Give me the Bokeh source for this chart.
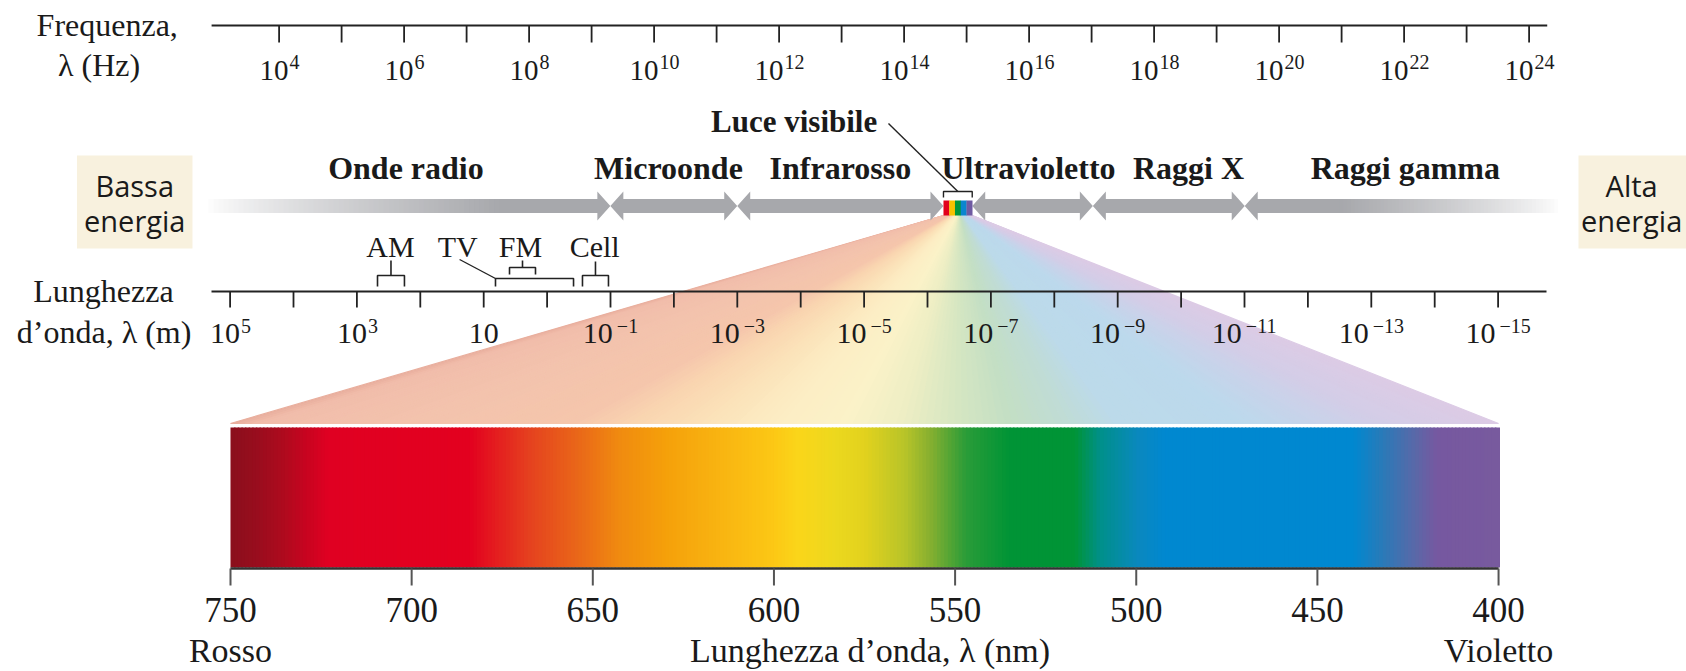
import numpy as np
from bokeh.plotting import figure
from bokeh.models import Range1d
from bokeh.core.properties import value
from bokeh.embed import file_html
from bokeh.resources import INLINE

# ----------------------------- data -----------------------------
freq_tick_exp = list(range(4, 25))            # log10(frequency / Hz)
freq_label_exp = list(range(4, 25, 2))
lam_tick_exp = list(range(5, -16, -1))        # log10(wavelength / m)
lam_label_exp = list(range(5, -16, -2))

band_names = ["Onde radio", "Microonde", "Infrarosso", "Ultravioletto", "Raggi X", "Raggi gamma"]
band_start = [2.79, 9.30, 11.33, 15.09, 17.02, 19.45]   # log10(Hz)
band_end = [9.30, 11.33, 14.63, 17.02, 19.45, 24.55]
band_label_x = [6.03, 10.23, 12.98, 15.99, 18.55, 22.02]

visible_label = "Luce visibile"
visible_start, visible_end = 14.63, 15.09
visible_colors = ["#e2001a", "#f6c200", "#00963c", "#0a86cf", "#6f5aa2"]

radio_names = ["AM", "TV", "FM", "Cell"]
radio_label_lam = [2.47, 1.41, 0.42, -0.75]   # log10(m)
radio_lo = [2.675, 0.814, 0.593, -0.558]
radio_hi = [2.25, -0.417, 0.183, -0.968]

nm_ticks = [750, 700, 650, 600, 550, 500, 450, 400]
spectrum_nm = [750, 742, 735, 729, 723, 684, 667, 653, 643, 630, 618, 600, 593,
               583, 575, 564, 557, 547, 535, 517, 510, 499, 492, 440, 432, 423, 417, 400]
spectrum_colors = ["#8a0f1c", "#9a0d1e", "#b00a1e", "#c80420", "#e00022", "#e3001f",
                   "#e5431f", "#ea6a18", "#f08a10", "#f5a00a", "#f8b010", "#fcc815",
                   "#fad61a", "#ecd81e", "#e2d21e", "#b8c428", "#88b030", "#2a9c38",
                   "#009436", "#009436", "#00908a", "#0a88c0", "#0088d0", "#0088d0",
                   "#2a7ab8", "#5a68a8", "#7658a0", "#785a9e"]
fan_nm = [750, 742, 700, 655, 640, 620, 600, 580, 565, 550, 535, 520, 505, 470, 450, 430, 400]
fan_colors = ["#e8ad9c", "#f1bdab", "#f3c3ad", "#f5c6ac", "#f9d4b0", "#fbe1b8", "#fcedc4",
              "#fbf2c8", "#eeeec4", "#d6e6c2", "#c4dfc4", "#c0dcd4", "#bcdaea", "#bcd9ec",
              "#c8d3ea", "#d4cde7", "#dccbe5"]

energy_low = ["Bassa", "energia"]
energy_high = ["Alta", "energia"]

# ----------------------------- layout -----------------------------
W, H = 1686, 671
SERIF = "Liberation Serif"
SANS = "Open Sans"
INK = "#1a1a1a"
GRAY = "#a7a8ac"

# axis calibrations (pixel position of reference ticks)
f_start = 4 - 278.6 / 62.5
f_end = f_start + W / 62.5
l_start = 5 + 229.6 / 63.4
l_end = l_start - W / 63.4
n_start = 750 + 230 / 3.623
n_end = n_start - W / 3.623


def freq_to_nm(f):
    frac = (np.asarray(f) - f_start) / (f_end - f_start)
    return n_start + frac * (n_end - n_start)


p = figure(width=W, height=H, x_range=Range1d(f_start, f_end), y_range=Range1d(H, 0),
           x_axis_type=None, y_axis_type=None, toolbar_location=None, output_backend="svg",
           min_border=0, min_border_left=0, min_border_right=0, min_border_top=0, min_border_bottom=0)
p.outline_line_color = None
p.background_fill_color = "white"
p.border_fill_color = "white"
p.extra_x_ranges = {"lam": Range1d(l_start, l_end), "nm": Range1d(n_start, n_end)}


def hex_rgb(h):
    h = h.lstrip("#")
    return np.array([int(h[i:i + 2], 16) for i in (0, 2, 4)], dtype=float)


def interp_colors(stops_x, stops_c, xs):
    sx = np.array(stops_x, dtype=float)[::-1]
    rgb = np.array([hex_rgb(c) for c in stops_c])[::-1]
    out = []
    for x in xs:
        c = [np.interp(x, sx, rgb[:, k]) for k in range(3)]
        out.append("#%02x%02x%02x" % tuple(int(round(v)) for v in c))
    return out


def dy(size):
    # baseline correction observed for the svg text rendering
    return -size / 3.1


def txt(x, y, t, size, font=SERIF, style="normal", align="center", rn="default", color=INK,
        x_offset=0):
    p.text(x=x, y=[v + dy(size) for v in y], text=t, text_font=value(font),
           text_font_size=value("%dpx" % size), text_font_style=style, text_align=align,
           text_baseline="alphabetic", text_color=color, x_range_name=rn, x_offset=x_offset)


# ---------------- fan (pastel projection of the visible band) ----------------
Y_FAN_TOP, Y_FAN_BOT = 215, 423
apex_l, apex_r = freq_to_nm([visible_start, visible_end])
step = 2.0
nb = np.arange(750, 400, -step)
fan_xs, fan_ys = [], []
for a in nb:
    b = a - step
    ta = (750 - a) / 350.0
    tb = (750 - b) / 350.0
    xa = apex_l + ta * (apex_r - apex_l)
    xb = apex_l + tb * (apex_r - apex_l)
    fan_xs.append([xa, xb, b, a])
    fan_ys.append([Y_FAN_TOP, Y_FAN_TOP, Y_FAN_BOT, Y_FAN_BOT])
fc = interp_colors(fan_nm, fan_colors, nb - step / 2)
p.patches(xs=fan_xs, ys=fan_ys, fill_color=fc, line_color=fc, line_width=1.2, x_range_name="nm")

# ---------------- spectrum bar ----------------
nms = np.arange(750, 400, -1.0)
bc = interp_colors(spectrum_nm, spectrum_colors, nms - 0.5)
p.quad(left=nms, right=nms - 1.4, top=427, bottom=567, fill_color=bc, line_color=None,
       x_range_name="nm")
p.segment(x0=[750], y0=[568], x1=[400], y1=[568], line_color="#333333", line_width=2.5,
          x_range_name="nm")
p.segment(x0=nm_ticks, y0=[568] * len(nm_ticks), x1=nm_ticks, y1=[585] * len(nm_ticks),
          line_color="#555555", line_width=2, x_range_name="nm")
txt(nm_ticks, [621] * len(nm_ticks), [str(v) for v in nm_ticks], 35, rn="nm")
txt([750], [661], ["Rosso"], 34, rn="nm")
txt([400], [661], ["Violetto"], 34, rn="nm")
txt([(750 + 400) / 2 - 1.5], [661], ["Lunghezza d\u2019onda, \u03bb (nm)"], 34, rn="nm")

# ---------------- frequency axis ----------------
p.segment(x0=[2.92], y0=[25], x1=[24.29], y1=[25], line_color="#222222", line_width=2.2)
p.segment(x0=freq_tick_exp, y0=[25] * len(freq_tick_exp), x1=freq_tick_exp,
          y1=[42] * len(freq_tick_exp), line_color="#222222", line_width=1.8)


def sup_labels(xs, exps, yb, ye, rn, base_px, exp_px):
    bx, bt, bo, ex, et, eo, cx = [], [], [], [], [], [], []
    for x, e in zip(xs, exps):
        if e == 1:
            cx.append(x)
            continue
        s = str(e).replace("-", "\u2212")
        we = 0.5 * exp_px * len(str(abs(e))) + (0.564 * exp_px + 4 if e < 0 else 0.0)
        wb = float(base_px)
        off = (wb - we) / 2.0
        bx.append(x); bt.append("10"); bo.append(off)
        ex.append(x); et.append(s); eo.append(off + (1.0 if e >= 0 else 4.0))
    p.text(x=bx, y=[yb + dy(base_px)] * len(bx), text=bt, x_offset=bo, text_font=value(SERIF),
           text_font_size=value("%dpx" % base_px), text_align="right", text_baseline="alphabetic",
           text_color=INK, x_range_name=rn)
    p.text(x=ex, y=[ye + dy(exp_px)] * len(ex), text=et, x_offset=eo, text_font=value(SERIF),
           text_font_size=value("%dpx" % exp_px), text_align="left", text_baseline="alphabetic",
           text_color=INK, x_range_name=rn)
    if cx:
        txt(cx, [yb] * len(cx), ["10"] * len(cx), base_px, rn=rn)


sup_labels(freq_label_exp, freq_label_exp, 79, 68, "default", 29, 20)
txt([1.25], [35], ["Frequenza,"], 32)
txt([1.12], [75], ["\u03bb (Hz)"], 32)

# ---------------- wavelength axis ----------------
p.segment(x0=[l_start - 211 / 63.4], y0=[291], x1=[l_start - 1546 / 63.4],
          y1=[291], line_color="#222222", line_width=2.2, x_range_name="lam")
p.segment(x0=lam_tick_exp, y0=[291] * len(lam_tick_exp), x1=lam_tick_exp,
          y1=[307] * len(lam_tick_exp), line_color="#222222", line_width=1.8, x_range_name="lam")
sup_labels(lam_label_exp, lam_label_exp, 343, 332, "lam", 30, 20)
txt([1.19], [301], ["Lunghezza"], 32)
txt([1.20], [342], ["d\u2019onda, \u03bb (m)"], 32)

# radio sub-bands (brackets)
br_top = [275, 278, 267, 275]
br_bot = [286, 286, 274, 286]
bxs, bys = [], []
for lo, hi, t, b in zip(radio_lo, radio_hi, br_top, br_bot):
    bxs.append([lo, lo, hi, hi]); bys.append([b, t, t, b])
p.multi_line(xs=bxs, ys=bys, line_color="#222222", line_width=1.6, x_range_name="lam")
stems = [0, 2, 3]
p.segment(x0=[(radio_lo[i] + radio_hi[i]) / 2 for i in stems], y0=[br_top[i] for i in stems],
          x1=[(radio_lo[i] + radio_hi[i]) / 2 for i in stems], y1=[260, 260, 261],
          line_color="#222222", line_width=1.6, x_range_name="lam")
p.segment(x0=[1.38], y0=[259], x1=[radio_lo[1]], y1=[278], line_color="#222222",
          line_width=1.4, x_range_name="lam")
txt(radio_label_lam, [256] * 4, radio_names, 30, rn="lam")

# ---------------- band arrows ----------------
YC, BH, HH = 205.5, 7.0, 14.5
HL = 13 / 62.5


def arrow(a, b, lh, rh):
    xs, ys = [], []
    if lh:
        xs += [a, a + HL, a + HL]; ys += [YC, YC - HH, YC - BH]
    else:
        xs += [a]; ys += [YC - BH]
    if rh:
        xs += [b - HL, b - HL, b, b - HL, b - HL]; ys += [YC - BH, YC - HH, YC, YC + HH, YC + BH]
    else:
        xs += [b, b]; ys += [YC - BH, YC + BH]
    if lh:
        xs += [a + HL, a + HL]; ys += [YC + BH, YC + HH]
    else:
        xs += [a]; ys += [YC + BH]
    return xs, ys


axs, ays = [], []
radio_fade_end = 7.6
gamma_fade_start = 21.0
for i, (a, b) in enumerate(zip(band_start, band_end)):
    if i == 0:
        xs, ys = arrow(radio_fade_end, b, False, True)
    elif i == len(band_start) - 1:
        xs, ys = arrow(a, gamma_fade_start, True, False)
    else:
        xs, ys = arrow(a, b, True, True)
    axs.append(xs); ays.append(ys)
p.patches(xs=axs, ys=ays, fill_color=GRAY, line_color=None)

nf = 60
edges = np.linspace(band_start[0], radio_fade_end, nf + 1)
cols = interp_colors([1.0, 0.0], [GRAY, "#ffffff"], np.linspace(0, 1, nf) ** 0.8)
p.quad(left=edges[:-1], right=edges[1:] + 0.03, top=YC - BH, bottom=YC + BH,
       fill_color=cols, line_color=None)
edges = np.linspace(gamma_fade_start, band_end[-1], nf + 1)
cols = interp_colors([1.0, 0.0], [GRAY, "#ffffff"], (1 - np.linspace(0, 1, nf)) ** 0.8)
p.quad(left=edges[:-1] - 0.03, right=edges[1:], top=YC - BH, bottom=YC + BH,
       fill_color=cols, line_color=None)

# visible mini spectrum
vw = (visible_end - visible_start) / len(visible_colors)
vl = [visible_start + k * vw for k in range(len(visible_colors))]
p.quad(left=vl, right=[v + vw * 1.05 for v in vl], top=200, bottom=215,
       fill_color=visible_colors, line_color=None)
p.multi_line(xs=[[visible_start, visible_start, visible_end, visible_end]], ys=[[197, 191, 191, 197]],
             line_color="#222222", line_width=1.4)
p.segment(x0=[13.75], y0=[123], x1=[(visible_start + visible_end) / 2], y1=[191],
          line_color="#222222", line_width=1.4)

txt(band_label_x, [178] * len(band_names), band_names, 32, style="bold")
txt([13.57], [131], [visible_label], 31, style="bold", align="right")

# energy boxes
p.quad(left=[0.766, 24.79], right=[2.614, 26.7], top=[155, 155], bottom=[248, 248],
       fill_color="#f8f1de", line_color=None)
txt([1.69, 1.69], [194, 229], energy_low, 29, font=SANS)
txt([25.64, 25.64], [194, 229], energy_high, 29, font=SANS)

open("out.html", "w").write(file_html(p, INLINE))
